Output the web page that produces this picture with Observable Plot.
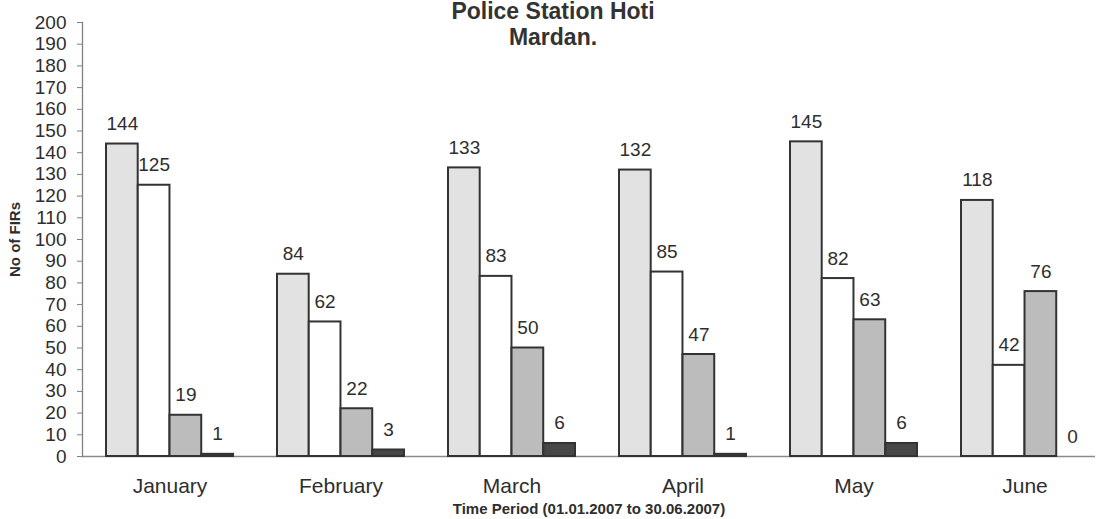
<!DOCTYPE html>
<html><head><meta charset="utf-8">
<script src="https://cdn.jsdelivr.net/npm/d3@7"></script>
<script src="https://cdn.jsdelivr.net/npm/@observablehq/plot@0.6"></script>
<style>
body{margin:0;background:#fff;}
#chart svg{display:block;}
g[aria-label="x-axis label"] text, g[aria-label="y-axis label"] text{font-weight:bold;font-size:15px;}
</style></head><body><div id="chart"></div>
<script>
const months = ["January","February","March","April","May","June"];
const seriesNames = ["Series 1","Series 2","Series 3","Series 4"];
const series1 = [144,84,133,132,145,118];
const series2 = [125,62,83,85,82,42];
const series3 = [19,22,50,47,63,76];
const series4 = [1,3,6,1,6,0];
const yTicks = d3.range(0,201,10);
const titleText = "Police Station Hoti\nMardan.";
const yLabel = "No of FIRs";
const xLabel = "Time Period (01.01.2007 to 30.06.2007)";

const seriesValues = [series1, series2, series3, series4];
const fills = ["#e2e2e2", "#ffffff", "#bcbcbc", "#474747"];
const tables = seriesValues.map((vals, j) => months.map((m, i) => ({month: m, series: seriesNames[j], value: vals[i]})));

const W = 1103, H = 519, ML = 82, MR = 8, MT = 22, MB = 63;
const xOpts = {domain: months, type: "band", paddingInner: 0.26, paddingOuter: 0.08, align: 0.77};
const bw = d3.scaleBand().domain(months).range([ML, W - MR]).paddingInner(0.26).paddingOuter(0.08).align(0.77).bandwidth();
const w = bw / 4;

const marks = [
  Plot.frame({anchor: "left", stroke: "#808080", strokeWidth: 1.3}),
  Plot.ruleY([0], {stroke: "#8a8a8a", strokeWidth: 1.5}),
  Plot.axisY(yTicks, {tickSize: 5, tickPadding: 11, fontSize: 19, stroke: "#808080", fill: "#2e2e2e",
    label: yLabel, labelAnchor: "center", labelOffset: 73, labelArrow: "none"}),
  Plot.axisX({tickSize: 0, tickPadding: 22, fontSize: 21, fill: "#2e2e2e",
    label: xLabel, labelAnchor: "center", labelOffset: 57, labelArrow: "none"}),
];
tables.forEach((t, j) => {
  marks.push(Plot.barY(t, {x: "month", y: "value", fill: fills[j], stroke: "#333", strokeWidth: 2,
    insetLeft: j * w, insetRight: (3 - j) * w}));
});
tables.forEach((t, j) => {
  marks.push(Plot.text(t, {x: "month", y: "value", text: d => String(d.value), dx: (j - 1.5) * w, dy: -14,
    lineAnchor: "bottom", fontSize: 19, fill: "#2e2e2e"}));
});
marks.push(Plot.text([titleText], {text: d => d, frameAnchor: "top", dx: -36, dy: -21, lineAnchor: "top",
  fontSize: 23, fontWeight: "bold", lineHeight: 1.1, fill: "#333"}));

const chart = Plot.plot({
  width: W, height: H, marginLeft: ML, marginRight: MR, marginTop: MT, marginBottom: MB,
  style: {fontFamily: "'Liberation Sans', Arial, sans-serif", background: "#fff", color: "#2e2e2e", overflow: "visible"},
  x: xOpts,
  y: {domain: [0, 200]},
  marks
});
document.getElementById("chart").appendChild(chart);
</script></body></html>
